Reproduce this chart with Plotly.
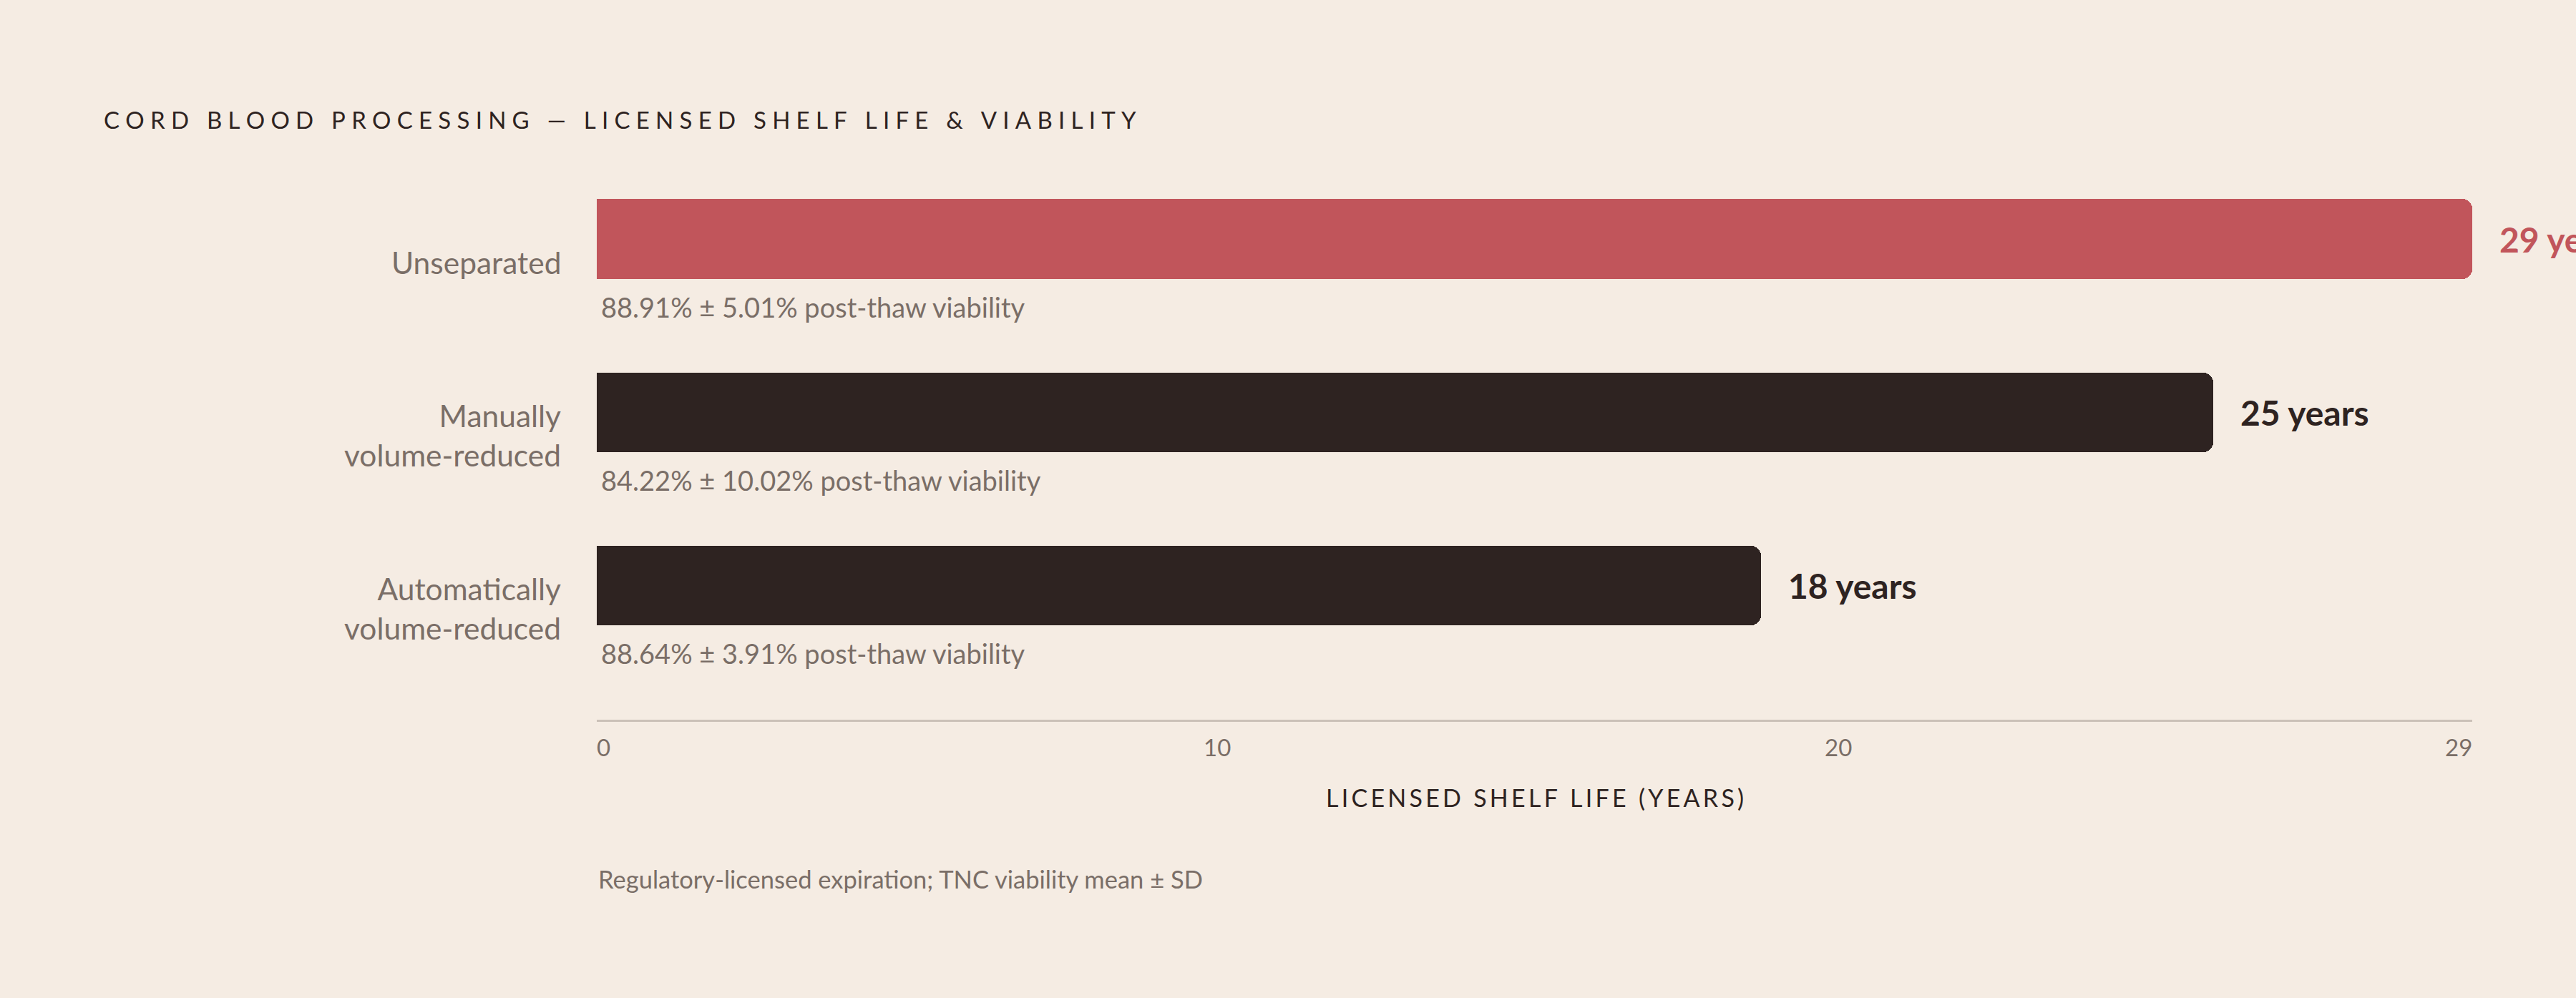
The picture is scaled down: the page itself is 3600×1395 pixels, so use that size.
import plotly.graph_objects as go

# data
categories = ["Unseparated", "Manually<br>volume-reduced", "Automatically<br>volume-reduced"]
shelf_years = [29, 25, 18]
viability_mean = [88.91, 84.22, 88.64]
viability_sd = [5.01, 10.02, 3.91]
tick_labels = ["0", "10", "20", "29"]

BG = "#f5ece3"
RED = "#c1555b"
DARK = "#2e2321"
GREY = "#7a6e67"
FONT = "Lato"

def spaced(s, sp="\u2009"):
    return sp.join(list(s))

bar_colors = [RED if v == max(shelf_years) else DARK for v in shelf_years]

fig = go.Figure()
fig.add_trace(go.Bar(
    y=categories, x=shelf_years, orientation="h",
    marker=dict(color=bar_colors, cornerradius=14, line=dict(width=0)),
    width=0.46, hoverinfo="skip",
))

ann = []
for i, cat in enumerate(categories):
    # category label on the left
    ann.append(dict(x=0, xref="x domain", y=cat, yref="y", xanchor="right",
                    yanchor="middle", xshift=-48, yshift=-32, showarrow=False,
                    align="right", text=cat,
                    font=dict(family=FONT, size=42.5, color=GREY)))
    # viability line under the bar
    ann.append(dict(x=0, xref="x domain", y=cat, yref="y", xanchor="left",
                    yanchor="middle", xshift=4, yshift=-95, showarrow=False,
                    text=f"{viability_mean[i]:.2f}% ± {viability_sd[i]:.2f}% post-thaw viability",
                    font=dict(family=FONT, size=38, color=GREY)))
    # value label
    ann.append(dict(x=shelf_years[i], xref="x", y=cat, yref="y", xanchor="left",
                    yanchor="middle", xshift=36, showarrow=False,
                    text=f"<b>{shelf_years[i]} years</b>",
                    font=dict(family=FONT, size=48, color=bar_colors[i])))

# tick labels spread edge to edge with equal gaps (like space-between)
tick_size = 33
dom_px = 3600 - 834 - 145
widths = [len(t) * 0.58 * tick_size for t in tick_labels]
gap = (dom_px - sum(widths)) / (len(tick_labels) - 1)
pos = 0
for k, t in enumerate(tick_labels):
    centre = pos + widths[k] / 2
    pos += widths[k] + gap
    ann.append(dict(x=centre / dom_px, xref="x domain", y=0, yref="y domain",
                    xanchor="center", yanchor="top", yshift=-16, showarrow=False,
                    text=t, font=dict(family=FONT, size=tick_size, color=GREY)))

# axis title
ann.append(dict(x=0.5, xref="x domain", y=0, yref="y domain", xanchor="center",
                yanchor="top", yshift=-86, showarrow=False,
                text=spaced("LICENSED SHELF LIFE (YEARS)"),
                font=dict(family=FONT, size=34, color=DARK)))

# footnote
ann.append(dict(x=0, xref="x domain", y=0, yref="y domain", xanchor="left",
                yanchor="top", yshift=-200, showarrow=False,
                text="Regulatory-licensed expiration; TNC viability mean ± SD",
                font=dict(family=FONT, size=34.5, color=GREY)))

fig.update_layout(
    width=3600, height=1395,
    paper_bgcolor=BG, plot_bgcolor=BG,
    margin=dict(l=834, r=145, t=213, b=389),
    showlegend=False,
    bargap=0,
    title=dict(text=spaced("CORD BLOOD PROCESSING — LICENSED SHELF LIFE & VIABILITY", "\u2005"),
               x=145 / 3600, xanchor="left", y=1 - 168 / 1395, yanchor="middle",
               font=dict(family=FONT, size=33, color=DARK)),
    xaxis=dict(range=[0, 29], showgrid=False, zeroline=False, showticklabels=False,
               ticks="", showline=True, linecolor="#cbc1b8", linewidth=3, fixedrange=True),
    yaxis=dict(range=[2.775, -0.5], showgrid=False, zeroline=False, showticklabels=False,
               ticks="", showline=False, fixedrange=True),
    annotations=ann,
)

fig.write_html("out.html", config={"displayModeBar": False},
               post_script="document.body.style.margin='0';document.body.style.background='%s';" % BG)
